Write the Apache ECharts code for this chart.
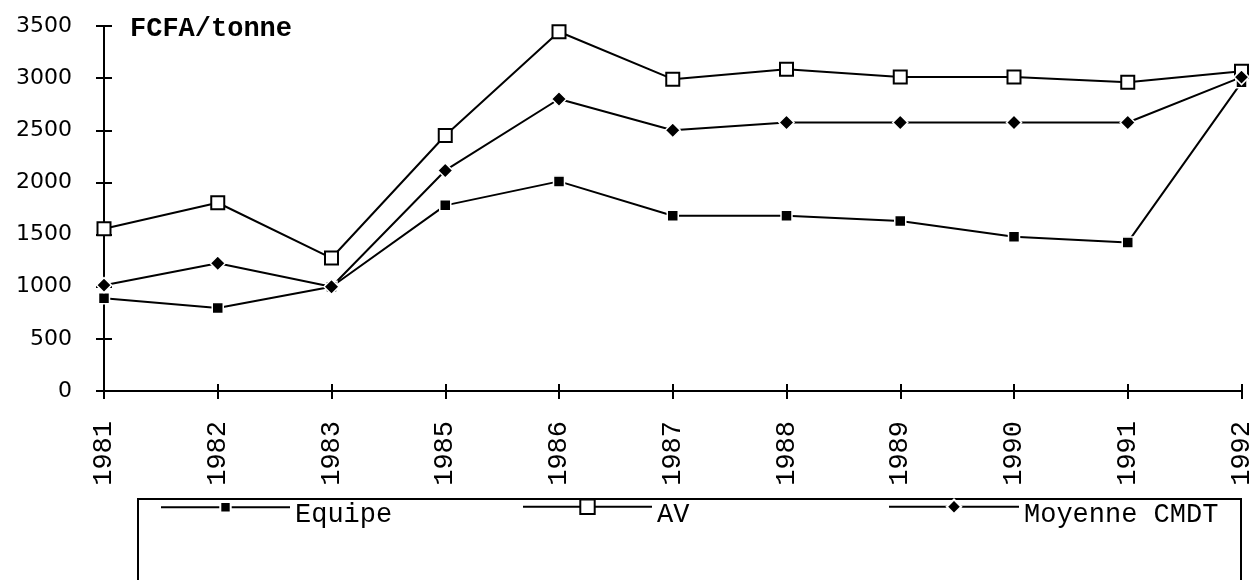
<!DOCTYPE html>
<html>
<head>
<meta charset="utf-8">
<script src="https://cdn.jsdelivr.net/npm/echarts@6/dist/echarts.min.js"></script>
<style>
  html, body { margin: 0; padding: 0; background: #fff; }
  #chart { width: 1255px; height: 580px; }
</style>
</head>
<body>
<div id="chart"></div>
<script>
// Years on the horizontal axis (no 1984 in the series)
const years = ['1981', '1982', '1983', '1985', '1986', '1987', '1988', '1989', '1990', '1991', '1992'];

// Prices in FCFA per tonne
const equipe  = [890, 795, 1000, 1780, 2010, 1680, 1680, 1630, 1480, 1425, 2960];
const av      = [1555, 1805, 1275, 2450, 3445, 2990, 3085, 3010, 3010, 2960, 3065];
const moyenne = [1015, 1225, 1000, 2115, 2800, 2500, 2575, 2575, 2575, 2575, 3010];

const seriesNames = ['Equipe', 'AV', 'Moyenne CMDT'];
const unitLabel = 'FCFA/tonne';

// Value axis range
const yMin = 0;
const yMax = 3500;
const yStep = 500;

const MONO = "'Courier New', 'Liberation Mono', monospace";
const SANS = "'DejaVu Sans', sans-serif";
const INK = '#000';

const chart = echarts.init(document.getElementById('chart'), null, { renderer: 'canvas' });

// One legend block per series so each keeps its own marker size
function legendFor(name, left, top, itemHeight, itemWidth) {
  return {
    data: [name],
    left: left,
    top: top,
    orient: 'horizontal',
    padding: 0,
    itemWidth: itemWidth,
    itemHeight: itemHeight,
    selectedMode: false,
    lineStyle: { color: INK, width: 2 },
    formatter: '{t|{name}}',
    textStyle: {
      color: INK,
      rich: {
        t: {
          fontFamily: MONO,
          fontSize: 27,
          color: INK,
          padding: [16, 0, 0, 0]
        }
      }
    }
  };
}

const legendTop = 501;

const option = {
  animation: false,
  backgroundColor: '#fff',
  grid: { left: 104, right: 12, top: 26, bottom: 189, containLabel: false },
  title: {
    text: unitLabel,
    left: 130,
    top: 16,
    padding: 0,
    textStyle: { fontFamily: MONO, fontWeight: 'bold', fontSize: 27, color: INK }
  },
  legend: [
    legendFor(seriesNames[0], 160, legendTop, 13, 129),
    legendFor(seriesNames[1], 522, legendTop - 2.5, 18, 129),
    legendFor(seriesNames[2], 888, legendTop - 2.5, 18, 130)
  ],
  xAxis: [
    {
      type: 'category',
      data: years,
      boundaryGap: false,
      axisLine: { lineStyle: { color: INK, width: 2 } },
      axisTick: { show: true, length: 8, inside: false, lineStyle: { color: INK, width: 2 } },
      axisLabel: {
        rotate: 90,
        margin: 30,
        fontFamily: MONO,
        fontSize: 27,
        color: INK,
        interval: 0
      },
      splitLine: { show: false }
    },
    {
      // tick marks crossing into the plot area
      type: 'category',
      data: years,
      position: 'bottom',
      boundaryGap: false,
      axisLine: { show: false },
      axisTick: { show: true, length: 7, inside: true, lineStyle: { color: INK, width: 2 } },
      axisLabel: { show: false },
      splitLine: { show: false }
    }
  ],
  yAxis: [
    {
      type: 'value',
      min: yMin,
      max: yMax,
      interval: yStep,
      axisLine: { show: true, lineStyle: { color: INK, width: 2 } },
      axisTick: { show: true, length: 8, inside: false, lineStyle: { color: INK, width: 2 } },
      axisLabel: {
        margin: 32,
        fontFamily: SANS,
        fontSize: 22,
        color: INK,
        formatter: (v) => String(v)
      },
      splitLine: { show: false }
    },
    {
      type: 'value',
      position: 'left',
      min: yMin,
      max: yMax,
      interval: yStep,
      axisLine: { show: false },
      axisTick: { show: true, length: 8, inside: true, lineStyle: { color: INK, width: 2 } },
      axisLabel: { show: false },
      splitLine: { show: false }
    }
  ],
  series: [
    {
      name: seriesNames[0],
      type: 'line',
      data: equipe,
      symbol: 'rect',
      symbolSize: 11,
      showAllSymbol: true,
      lineStyle: { color: INK, width: 2 },
      itemStyle: { color: INK, borderColor: '#fff', borderWidth: 1.5 },
      emphasis: { disabled: true }
    },
    {
      name: seriesNames[1],
      type: 'line',
      data: av,
      symbol: 'rect',
      symbolSize: 13,
      showAllSymbol: true,
      lineStyle: { color: INK, width: 2 },
      itemStyle: { color: '#fff', borderColor: INK, borderWidth: 2 },
      emphasis: { disabled: true }
    },
    {
      name: seriesNames[2],
      type: 'line',
      data: moyenne,
      symbol: 'diamond',
      symbolSize: 15,
      showAllSymbol: true,
      lineStyle: { color: INK, width: 2 },
      itemStyle: { color: INK, borderColor: '#fff', borderWidth: 1.5 },
      emphasis: { disabled: true }
    }
  ],
  graphic: [
    {
      // frame around the legend, running past the bottom edge
      type: 'rect',
      silent: true,
      shape: { x: 138, y: 499, width: 1103, height: 200 },
      style: { fill: 'none', stroke: INK, lineWidth: 2 }
    }
  ]
};

chart.setOption(option);
</script>
</body>
</html>
